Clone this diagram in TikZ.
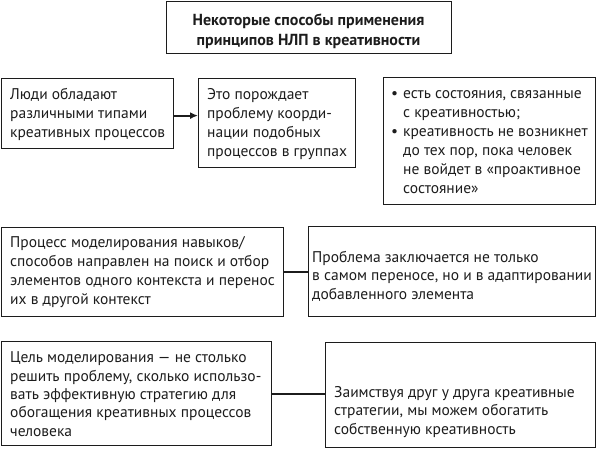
\documentclass[tikz,border=0pt]{standalone}
\usepackage{fontspec}
\setmainfont{PT Sans}
\usetikzlibrary{arrows.meta}
\definecolor{ink}{RGB}{28,28,28}
\tikzset{
  box/.style={draw=ink, line width=1.2pt, rectangle, inner sep=0pt, anchor=north west},
  txt/.style={inner sep=0pt, align=left, text=ink, anchor=base west,
    font={\fontsize{15.5}{19}\selectfont}},
  tight/.style={font={\fontsize{15.5}{18.3}\selectfont}},
  ttl/.style={inner sep=0pt, align=center, text=ink, anchor=base,
    font={\bfseries\fontsize{16}{20}\selectfont}},
  link/.style={draw=ink, line width=1.8pt},
}
\begin{document}
\begin{tikzpicture}[x=1pt,y=-1pt]
\useasboundingbox (0,0) rectangle (596,448);
% boxes
\node[box, minimum width=285pt, minimum height=52pt] (T) at (166,1) {};
\node[box, minimum width=172pt, minimum height=70pt] (A) at (1,78) {};
\node[box, minimum width=157pt, minimum height=89pt] (B) at (198,78) {};
\node[box, minimum width=212pt, minimum height=127pt] (C) at (383,77) {};
\node[box, minimum width=282pt, minimum height=89pt] (D) at (1,227) {};
\node[box, minimum width=287pt, minimum height=90pt] (E) at (308,226) {};
\node[box, minimum width=270pt, minimum height=104pt] (F) at (1,341) {};
\node[box, minimum width=270pt, minimum height=105pt] (G) at (325,342) {};
% texts (anchored at the baseline of the last line)
\node[ttl] (Tt) at (308.5,45) {Некоторые способы применения\\принципов НЛП в креативности};
\node[txt] (At) at (10,137) {Люди обладают\\различными типами\\креативных процессов};
\node[txt] (Bt) at (207,156) {Это порождает\\проблему коорди-\\нации подобных\\процессов в группах};
\node[txt] (Ct) at (403,193) {\llap{•\hspace{5pt}}есть состояния, связанные\\с креативностью;\\\llap{•\hspace{5pt}}креативность не возникнет\\до тех пор, пока человек\\не войдет в «проактивное\\состояние»};
\node[txt] (Dt) at (10,304) {Процесс моделирования навыков/\\способов направлен на поиск и отбор\\элементов одного контекста и перенос\\их в другой контекст};
\node[txt, tight] (Et) at (312,299) {Проблема заключается не только\\в самом переносе, но и в адаптировании\\добавленного элемента};
\node[txt, tight] (Ft) at (10,436) {Цель моделирования — не столько\\решить проблему, сколько использо-\\вать эффективную стратегию для\\обогащения креативных процессов\\человека};
\node[txt, tight] (Gt) at (334,434) {Заимствуя друг у друга креативные\\стратегии, мы можем обогатить\\собственную креативность};
% connectors
\draw[link, -{Latex[length=8pt,width=7pt]}] ([yshift=-2pt]A.east) -- ([yshift=-2pt]A.east -| B.west);
\draw[link] (D.east) -- (D.east -| E.west);
\draw[link] (F.east) -- (F.east -| G.west);
\end{tikzpicture}
\end{document}
